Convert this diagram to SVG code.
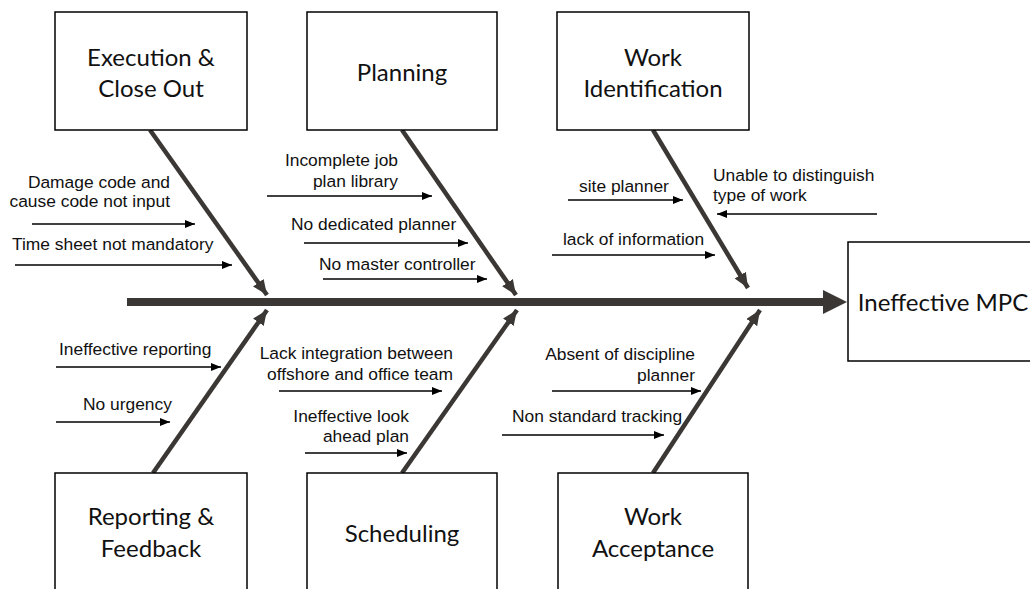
<svg xmlns="http://www.w3.org/2000/svg" width="1030" height="589" viewBox="0 0 1030 589">
<style>
.box{fill:#fff;stroke:#000;stroke-width:1.5}
.bt{font-family:Lato,"Open Sans","Liberation Sans",sans-serif;font-size:24px;fill:#111;text-anchor:middle}
.lb{font-family:"Liberation Sans",Arial,sans-serif;font-size:17.4px;fill:#111}
.e{text-anchor:end}
.sm{stroke:#000;stroke-width:1.6;fill:none;marker-end:url(#ah)}
.bone{stroke:#3b3734;stroke-width:4.5;fill:none;marker-end:url(#bh)}
</style>
<defs>
<marker id="ah" markerUnits="userSpaceOnUse" markerWidth="10" markerHeight="8" refX="10" refY="4" orient="auto">
<path d="M0,0 L10,4 L0,8 z" fill="#000"/>
</marker>
<marker id="bh" markerUnits="userSpaceOnUse" markerWidth="15" markerHeight="13" refX="15" refY="6.5" orient="auto">
<path d="M0,0 L15,6.5 L0,13 z" fill="#3b3734"/>
</marker>
</defs>
<rect width="1030" height="589" fill="#fff"/>

<g id="connectors">
<line x1="127" y1="302" x2="824" y2="302" stroke="#3b3734" stroke-width="8"/>
<polygon points="823,290 847,302 823,314" fill="#3b3734"/>
<line class="bone" x1="150" y1="130" x2="267" y2="295"/>
<line class="bone" x1="402" y1="130" x2="516" y2="295"/>
<line class="bone" x1="653" y1="130" x2="748" y2="288"/>
<line class="bone" x1="153" y1="473" x2="267" y2="310"/>
<line class="bone" x1="402" y1="473" x2="517" y2="310"/>
<line class="bone" x1="653" y1="473" x2="760" y2="310"/>
<line class="sm" x1="32" y1="224" x2="195" y2="224"/>
<line class="sm" x1="15" y1="265" x2="232" y2="265"/>
<line class="sm" x1="267" y1="196" x2="432" y2="196"/>
<line class="sm" x1="304" y1="243" x2="468" y2="243"/>
<line class="sm" x1="323" y1="279" x2="487" y2="279"/>
<line class="sm" x1="568" y1="200" x2="683" y2="200"/>
<line class="sm" x1="552" y1="255" x2="715" y2="255"/>
<line class="sm" x1="877" y1="214" x2="717" y2="214"/>
<line class="sm" x1="56" y1="367" x2="221" y2="367"/>
<line class="sm" x1="56" y1="422" x2="170" y2="422"/>
<line class="sm" x1="279" y1="391" x2="442" y2="391"/>
<line class="sm" x1="305" y1="453" x2="407" y2="453"/>
<line class="sm" x1="552" y1="391" x2="701" y2="391"/>
<line class="sm" x1="502" y1="435" x2="664" y2="435"/>
</g>

<g id="execution">
<rect class="box" x="55" y="12" width="192" height="118"/>
<text class="bt" x="151" y="66">Execution &amp;</text>
<text class="bt" x="151" y="97">Close Out</text>
</g>
<g id="planning">
<rect class="box" x="307" y="12" width="190" height="118"/>
<text class="bt" x="402" y="81">Planning</text>
</g>
<g id="work-identification">
<rect class="box" x="557" y="12" width="192" height="118"/>
<text class="bt" x="653" y="66">Work</text>
<text class="bt" x="653" y="97">Identification</text>
</g>
<g id="reporting">
<rect class="box" x="55" y="473" width="192" height="130"/>
<text class="bt" x="151" y="525">Reporting &amp;</text>
<text class="bt" x="151" y="557">Feedback</text>
</g>
<g id="scheduling">
<rect class="box" x="307" y="473" width="190" height="130"/>
<text class="bt" x="402" y="542">Scheduling</text>
</g>
<g id="work-acceptance">
<rect class="box" x="558" y="473" width="190" height="130"/>
<text class="bt" x="653" y="525">Work</text>
<text class="bt" x="653" y="557">Acceptance</text>
</g>
<g id="ineffective-mpc">
<rect class="box" x="848" y="242" width="200" height="119"/>
<text class="bt" x="943" y="311">Ineffective MPC</text>
</g>

<g id="labels">
<text class="lb e" x="170" y="188">Damage code and</text>
<text class="lb e" x="170" y="207">cause code not input</text>
<text class="lb" x="12" y="250">Time sheet not mandatory</text>
<text class="lb e" x="398" y="166">Incomplete job</text>
<text class="lb e" x="398" y="187">plan library</text>
<text class="lb" x="291" y="230">No dedicated planner</text>
<text class="lb" x="319" y="270">No master controller</text>
<text class="lb" x="579" y="192">site planner</text>
<text class="lb" x="563" y="245">lack of information</text>
<text class="lb" x="713" y="181">Unable to distinguish</text>
<text class="lb" x="713" y="201">type of work</text>
<text class="lb" x="59" y="355">Ineffective reporting</text>
<text class="lb" x="83" y="410">No urgency</text>
<text class="lb e" x="453" y="359">Lack integration between</text>
<text class="lb e" x="453" y="380">offshore and office team</text>
<text class="lb e" x="409" y="422">Ineffective look</text>
<text class="lb e" x="409" y="442">ahead plan</text>
<text class="lb e" x="695" y="360">Absent of discipline</text>
<text class="lb e" x="695" y="381">planner</text>
<text class="lb" x="512" y="422">Non standard tracking</text>
</g>
</svg>
